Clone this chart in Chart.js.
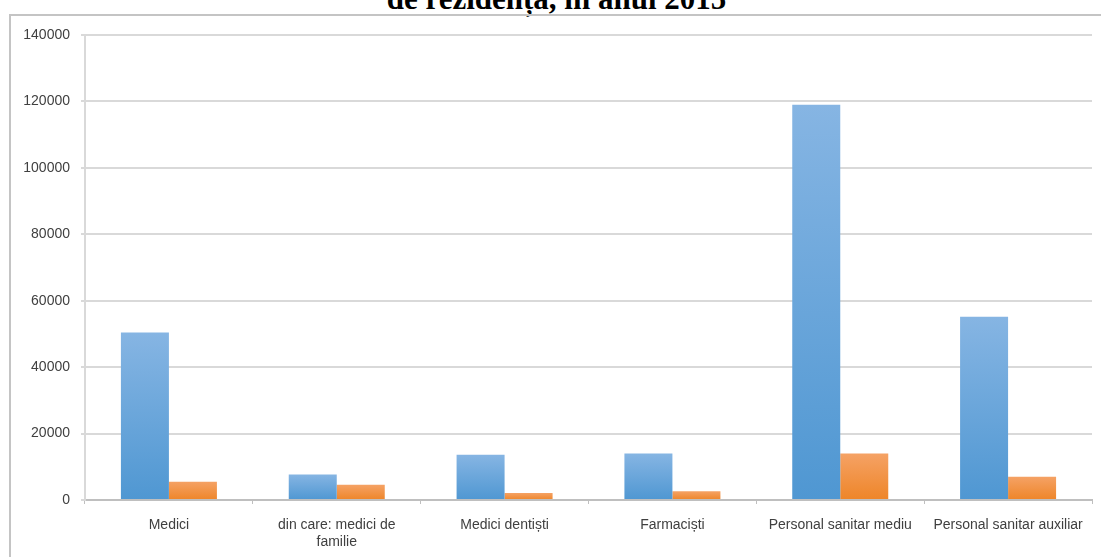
<!DOCTYPE html>
<html>
<head>
<meta charset="utf-8">
<script src="https://cdn.jsdelivr.net/npm/chart.js@4.4.1/dist/chart.umd.min.js"></script>
<style>
    html, body { margin: 0; padding: 0; background: #fff; overflow: hidden; }
    #wrap { position: relative; width: 1101px; height: 557px; }
    #titlu {
        position: absolute; left: 6px; top: -17px; width: 1101px;
        text-align: center; font: bold 31px "Liberation Serif", "Times New Roman", serif;
        line-height: 31px; color: #000; white-space: nowrap;
    }
    #rama {
        position: absolute; left: 9px; top: 14px; width: 1200px; height: 700px;
        border: 2px solid #c4c4c4; box-sizing: border-box;
    }
    #grafic { position: absolute; left: 0; top: 0; }
</style>
</head>
<body>
<div id="wrap">
    <div id="titlu">de rezidență, în anul 2015</div>
    <div id="rama"></div>
    <canvas id="grafic" width="1101" height="557"></canvas>
</div>
<script>
// categorii si valori
const categorii = [
    'Medici',
    ['din care: medici de', 'familie'],
    'Medici dentiști',
    'Farmaciști',
    'Personal sanitar mediu',
    'Personal sanitar auxiliar'
];
const serieAlbastra = [50400, 7700, 13600, 14000, 119000, 55200];
const serieOranj = [5500, 4600, 2100, 2600, 14000, 7000];
const tickuriY = [0, 20000, 40000, 60000, 80000, 100000, 120000, 140000];

// gradient pe fiecare bara, de la varf (deschis) spre baza (inchis)
const gradientBara = (sus, jos) => (ctx) => {
    const chart = ctx.chart;
    if (!chart.chartArea || ctx.type !== 'data') return jos;
    const y = chart.scales.y;
    const yVarf = y.getPixelForValue(ctx.raw);
    const yBaza = y.getPixelForValue(0);
    const g = chart.ctx.createLinearGradient(0, yVarf, 0, yBaza);
    g.addColorStop(0, sus);
    g.addColorStop(1, jos);
    return g;
};

const ctxGrafic = document.getElementById('grafic').getContext('2d');

new Chart(ctxGrafic, {
    type: 'bar',
    data: {
        labels: categorii,
        datasets: [{
            label: 'Serie 1',
            data: serieAlbastra,
            backgroundColor: gradientBara('#86b5e3', '#4f97d2'),
            borderWidth: 0,
            categoryPercentage: 0.572,
            barPercentage: 1
        }, {
            label: 'Serie 2',
            data: serieOranj,
            backgroundColor: gradientBara('#f5a265', '#ee8528'),
            borderWidth: 0,
            categoryPercentage: 0.572,
            barPercentage: 1
        }]
    },
    options: {
        responsive: false,
        animation: false,
        layout: { padding: { top: 35, right: 9, bottom: 0, left: 0 } },
        plugins: {
            legend: { display: false },
            title: { display: false },
            tooltip: { enabled: false }
        },
        scales: {
            x: {
                grid: {
                    offset: true,
                    drawOnChartArea: false,
                    drawTicks: true,
                    tickLength: 4,
                    color: '#bfbfbf'
                },
                border: { display: true, color: '#bfbfbf', width: 2 },
                ticks: {
                    maxRotation: 0,
                    autoSkip: false,
                    padding: 12,
                    color: '#404040',
                    font: { family: '"Liberation Sans", Arial, sans-serif', size: 14, lineHeight: 1.25 }
                },
                afterFit: (scale) => { scale.height = 57; }
            },
            y: {
                min: 0,
                max: 140000,
                afterBuildTicks: (scale) => {
                    scale.ticks = tickuriY.map(v => ({ value: v }));
                },
                grid: {
                    color: '#d9d9d9',
                    lineWidth: 2,
                    drawTicks: true,
                    tickLength: 4
                },
                border: { display: true, color: '#d9d9d9', width: 2 },
                ticks: {
                    padding: 11,
                    color: '#404040',
                    font: { family: '"Liberation Sans", Arial, sans-serif', size: 14 },
                    callback: (v) => String(v)
                },
                afterFit: (scale) => { scale.width = 85; }
            }
        }
    }
});
</script>
</body>
</html>
